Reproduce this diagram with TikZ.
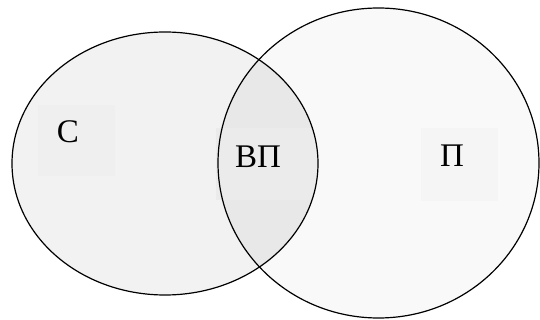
\documentclass[tikz,border=0pt]{standalone}
\usepackage{fontspec}
\setmainfont{Liberation Serif}
\definecolor{setS}{HTML}{F2F2F2}
\definecolor{setP}{HTML}{F9F9F9}
\definecolor{setSP}{HTML}{E8E8E8}
\definecolor{boxS}{HTML}{EFEFEF}
\definecolor{boxP}{HTML}{F5F5F5}
\definecolor{boxSP}{HTML}{EBEBEB}
\tikzset{
  setline/.style={draw=black, line width=1.2pt},
  lbl/.style={font=\fontsize{33}{36}\selectfont, inner sep=0pt, text=black}
}
\begin{document}
\begin{tikzpicture}[x=1pt, y=-1pt]
\useasboundingbox (0,0) rectangle (540,320);
% set fills
\fill[setS] (165,163.5) ellipse [x radius=153, y radius=131.5];
\fill[setP] (378.5,163) ellipse [x radius=160.5, y radius=155];
\begin{scope}
  \clip (165,163.5) ellipse [x radius=153, y radius=131.5];
  \fill[setSP] (378.5,163) ellipse [x radius=160.5, y radius=155];
  % label background inside the overlap
  \fill[boxSP] (216,128) rectangle (320,200);
\end{scope}
% label backgrounds
\fill[boxS] (38,105) rectangle (115,176);
\fill[boxP] (421,128) rectangle (498,201);
% outlines
\draw[setline] (165,163.5) ellipse [x radius=153, y radius=131.5];
\draw[setline] (378.5,163) ellipse [x radius=160.5, y radius=155];
% labels
\node[lbl] (s) at (68,132) {С};
\node[lbl] (sp) at (258,157) {ВП};
\node[lbl] (p) at (452,156) {П};
\end{tikzpicture}
\end{document}
